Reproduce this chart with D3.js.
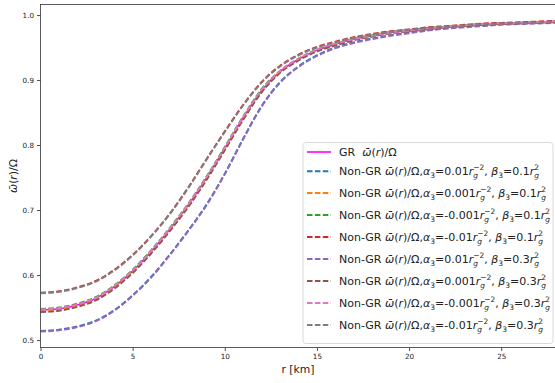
<!DOCTYPE html>
<html>
<head>
<meta charset="utf-8">
<script src="https://cdn.jsdelivr.net/npm/d3@7"></script>
<style>
  body { margin: 0; background: #fff; }
  svg { font-family: "DejaVu Sans", sans-serif; }
</style>
</head>
<body>
<div id="chart"></div>
<script>

// radius in km
const radius = [0,1,2,3,4,5,6,7,8,9,10,11,12,13,14,15,16,17,18,19,20,21,22,23,24,25,26,27,28];

// GR curve
const omegaGR = [0.546,0.548,0.554,0.564,0.582,0.606,0.636,0.670,0.707,0.749,0.795,0.842,0.884,0.913,0.932,0.946,0.955,0.963,0.968,0.973,0.976,0.979,0.982,0.984,0.986,0.987,0.988,0.989,0.990];

// Non-GR curves, beta3 = 0.1 rg^2
const omegaA001B01 = [0.514,0.516,0.521,0.530,0.546,0.569,0.597,0.631,0.668,0.708,0.756,0.810,0.860,0.897,0.921,0.938,0.950,0.958,0.964,0.969,0.973,0.977,0.980,0.982,0.984,0.986,0.987,0.988,0.989];
const omegaA0001B01 = [0.544,0.546,0.552,0.562,0.580,0.604,0.634,0.668,0.705,0.747,0.793,0.840,0.882,0.912,0.931,0.945,0.954,0.962,0.967,0.972,0.975,0.978,0.981,0.983,0.985,0.987,0.988,0.989,0.990];
const omegaAm0001B01 = [0.548,0.550,0.556,0.566,0.584,0.608,0.638,0.672,0.709,0.751,0.797,0.844,0.886,0.914,0.933,0.947,0.956,0.964,0.969,0.974,0.977,0.980,0.982,0.984,0.986,0.987,0.988,0.989,0.990];
const omegaAm001B01 = [0.573,0.575,0.581,0.591,0.608,0.631,0.660,0.694,0.734,0.778,0.821,0.862,0.897,0.922,0.939,0.951,0.959,0.966,0.971,0.975,0.978,0.981,0.983,0.985,0.987,0.988,0.989,0.990,0.991];

// Non-GR curves, beta3 = 0.3 rg^2
const omegaA001B03 = [0.513,0.515,0.520,0.529,0.545,0.568,0.596,0.630,0.667,0.707,0.755,0.809,0.859,0.896,0.920,0.937,0.949,0.957,0.963,0.968,0.972,0.976,0.979,0.981,0.983,0.985,0.986,0.987,0.988];
const omegaA0001B03 = [0.543,0.545,0.551,0.561,0.579,0.603,0.633,0.667,0.704,0.746,0.792,0.839,0.881,0.911,0.930,0.944,0.953,0.961,0.967,0.972,0.975,0.978,0.981,0.983,0.985,0.986,0.987,0.988,0.989];
const omegaAm0001B03 = [0.547,0.549,0.555,0.565,0.583,0.607,0.637,0.671,0.708,0.750,0.796,0.843,0.885,0.914,0.933,0.947,0.956,0.963,0.968,0.973,0.976,0.979,0.982,0.984,0.986,0.987,0.988,0.989,0.990];
const omegaAm001B03 = [0.572,0.574,0.580,0.590,0.607,0.630,0.659,0.693,0.733,0.777,0.820,0.861,0.896,0.921,0.938,0.950,0.958,0.965,0.970,0.974,0.977,0.980,0.982,0.984,0.986,0.987,0.988,0.989,0.990];

const alphaLabels = ["0.01", "0.001", "-0.001", "-0.01", "0.01", "0.001", "-0.001", "-0.01"];
const betaLabels = ["0.1", "0.1", "0.1", "0.1", "0.3", "0.3", "0.3", "0.3"];
const xTicks = [0, 5, 10, 15, 20, 25];
const yTicks = [0.5, 0.6, 0.7, 0.8, 0.9, 1.0];

class OmegaPlot {

  constructor(_config, _series) {
    this.config = {
      parentElement: _config.parentElement,
      containerWidth: _config.containerWidth || 555,
      containerHeight: _config.containerHeight || 383,
      margin: _config.margin || {top: 4.5, right: -1.5, bottom: 35.5, left: 40.5}
    }
    this.series = _series;
    this.initVis();
  }

  // write a small mathtext-like label made of [text, kind] parts
  mathText(sel, parts, fs) {
    let cur = 0, lastSub = null;
    const shift = {n: 0, i: 0, sub: 0.26 * fs, subi: 0.3 * fs, sup: -0.46 * fs};
    parts.forEach(([t, k]) => {
      const ts = sel.append('tspan').text(t);
      const small = (k === 'sub' || k === 'subi' || k === 'sup');
      ts.attr('font-size', small ? fs * 0.68 : fs);
      if (k === 'i' || k === 'subi') ts.attr('font-style', 'italic');
      const target = shift[k];
      let dx = 0;
      if (k === 'sup' && lastSub) dx = -lastSub.node().getComputedTextLength();
      if (target - cur !== 0) ts.attr('dy', target - cur);
      if (dx) ts.attr('dx', dx);
      cur = target;
      lastSub = (k === 'subi') ? ts : null;
    });
  }

  initVis() {
    let vis = this;
    const m = vis.config.margin;

    vis.width = vis.config.containerWidth - m.left - m.right;
    vis.height = vis.config.containerHeight - m.top - m.bottom;

    vis.svg = d3.select(vis.config.parentElement).append('svg')
        .attr('width', vis.config.containerWidth)
        .attr('height', vis.config.containerHeight);

    vis.chart = vis.svg.append('g')
        .attr('transform', `translate(${m.left},${m.top})`);

    // Scales
    vis.xScale = d3.scaleLinear()
      .domain([0, 28])
      .range([0, vis.width]);

    vis.yScale = d3.scaleLinear()
      .domain([0.4885, 1.0162])
      .range([vis.height, 0]);

    vis.chart.append('clipPath').attr('id', 'clip')
      .append('rect').attr('width', vis.width).attr('height', vis.height);

    // Axes
    vis.xAxis = d3.axisBottom(vis.xScale).tickValues(xTicks).tickSize(3.5).tickPadding(2.5);
    vis.yAxis = d3.axisLeft(vis.yScale).tickValues(yTicks).tickSize(3.5).tickPadding(3)
      .tickFormat(d3.format('.1f'));

    const gx = vis.chart.append('g')
        .attr('transform', `translate(0,${vis.height})`)
        .call(vis.xAxis);
    const gy = vis.chart.append('g')
        .call(vis.yAxis);
    [gx, gy].forEach(g => {
      g.select('.domain').remove();
      g.selectAll('line').attr('stroke', '#222').attr('stroke-width', 0.8);
      g.selectAll('text').attr('font-size', 7.2).attr('fill', '#222')
        .attr('font-family', 'DejaVu Sans');
    });

    // Lines
    const line = d3.line()
      .x((d, i) => vis.xScale(radius[i]))
      .y(d => vis.yScale(d))
      .curve(d3.curveMonotoneX);

    vis.chart.append('g').attr('clip-path', 'url(#clip)')
      .selectAll('path')
      .data(vis.series)
      .enter().append('path')
        .attr('d', d => line(d.values))
        .attr('fill', 'none')
        .attr('stroke', d => d.color)
        .attr('stroke-width', d => d.dashed ? 1.9 : 1.6)
        .attr('stroke-dasharray', d => d.dashed ? '5.5,2.4' : null);

    // Frame
    vis.chart.append('rect')
      .attr('width', vis.width).attr('height', vis.height)
      .attr('fill', 'none').attr('stroke', '#333').attr('stroke-width', 0.8);

    // Axis labels
    vis.svg.append('text')
      .attr('x', m.left + vis.width / 2 - 0.5)
      .attr('y', 373)
      .attr('text-anchor', 'middle')
      .attr('font-size', 10.8)
      .attr('fill', '#222')
      .text('r [km]');

    const yl = vis.svg.append('text')
      .attr('transform', `translate(17,${m.top + vis.height / 2}) rotate(-90)`)
      .attr('text-anchor', 'middle')
      .attr('fill', '#222');
    vis.mathText(yl, [['ω̄', 'i'], ['(', 'n'], ['r', 'i'], [')/Ω', 'n']], 10.8);

    // Legend
    const lg = vis.svg.append('g');
    lg.append('rect')
      .attr('x', 303).attr('y', 142.5)
      .attr('width', 250).attr('height', 201)
      .attr('rx', 3)
      .attr('fill', '#fff').attr('fill-opacity', 0.8)
      .attr('stroke', '#d0d0d0').attr('stroke-width', 0.8);

    const rowY = [152, 171.2, 193, 215, 237, 259, 281, 303, 325];
    vis.series.forEach((s, i) => {
      const y = rowY[i];
      lg.append('line')
        .attr('x1', 307).attr('x2', 331).attr('y1', y).attr('y2', y)
        .attr('stroke', s.color)
        .attr('stroke-width', s.dashed ? 1.9 : 1.6)
        .attr('stroke-dasharray', s.dashed ? '5.5,2.4' : null);
      const t = lg.append('text')
        .attr('x', 339).attr('y', y + 3.8)
        .attr('fill', '#222')
        .style('white-space', 'pre');
      vis.mathText(t, s.label, 11);
    });
  }
}

function nonGrLabel(a, b) {
  return [['Non-GR ', 'n'], ['ω̄', 'i'], ['(', 'n'], ['r', 'i'], [')/Ω,', 'n'],
    ['α', 'i'], ['3', 'sub'], ['=' + a, 'n'], ['r', 'i'], ['g', 'subi'], ['−2', 'sup'],
    [', ', 'n'], ['β', 'i'], ['3', 'sub'], ['=' + b, 'n'], ['r', 'i'], ['g', 'subi'], ['2', 'sup']];
}

const nonGrValues = [omegaA001B01, omegaA0001B01, omegaAm0001B01, omegaAm001B01,
                     omegaA001B03, omegaA0001B03, omegaAm0001B03, omegaAm001B03];
const nonGrColors = ['#1f77b4', '#ff7f0e', '#2ca02c', '#d62728', '#9467bd', '#8c564b', '#e377c2', '#7f7f7f'];

const series = [{
  values: omegaGR, color: '#ff00ff', dashed: false,
  label: [['GR\u00a0\u00a0', 'n'], ['ω̄', 'i'], ['(', 'n'], ['r', 'i'], [')/Ω', 'n']]
}].concat(nonGrValues.map((v, i) => ({
  values: v, color: nonGrColors[i], dashed: true,
  label: nonGrLabel(alphaLabels[i], betaLabels[i])
})));

new OmegaPlot({parentElement: '#chart'}, series);
</script>
</body>
</html>
